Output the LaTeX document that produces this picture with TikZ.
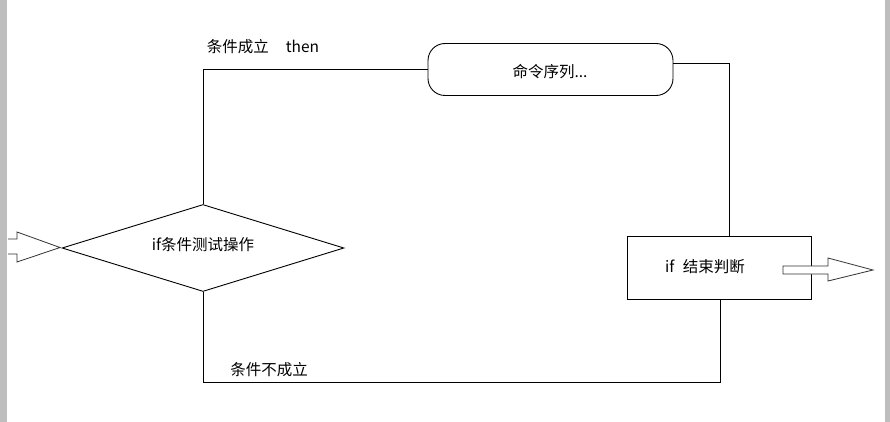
\documentclass[tikz,border=0pt]{standalone}
\usepackage{fontspec}
\setmainfont{Noto Sans CJK SC}
\usetikzlibrary{shapes.geometric}
\definecolor{edgegray}{RGB}{190,190,190}
\definecolor{arrowgray}{RGB}{50,50,50}
\tikzset{
  conn/.style={draw=black, line width=0.9pt},
  shapeline/.style={draw=black, line width=0.9pt},
  blockarrow/.style={draw=arrowgray, line width=0.8pt, fill=white},
  lbl/.style={font=\fontsize{15.5}{17}\selectfont, inner sep=0pt}
}
\begin{document}
\begin{tikzpicture}[x=1pt, y=-1pt]
\useasboundingbox (0,0) rectangle (890,422);
\fill[white] (0,0) rectangle (890,422);
\fill[edgegray] (0,0) rectangle (7,422);
\fill[edgegray] (885,0) rectangle (890,422);

% diamond
\node[diamond, shapeline, shape aspect=3.24, minimum width=282pt, minimum height=87pt, inner sep=0pt] (dia) at (203,248) {};
\node[lbl] (diatext) at (203,245) {if条件测试操作};

% rounded command box
\node[shapeline, rounded corners=17pt, minimum width=245pt, minimum height=52pt, inner sep=0pt] (cmd) at (550.5,69.5) {};
\node[lbl] (cmdtext) at (550,72) {命令序列...};

% end box
\node[shapeline, rectangle, minimum width=184pt, minimum height=63pt, inner sep=0pt] (endbox) at (719,267.5) {};
\node[lbl] (endtext) at (705,267) {if\hspace{0.55em}结束判断};

% labels
\node[lbl] (thenlbl) at (263,47) {条件成立\hspace{1.1em}then};
\node[lbl] (elselbl) at (269,370) {条件不成立};

% connectors
\coordinate (c1) at (729,63);
\coordinate (c2) at (720,382);
\draw[conn] (dia.north) |- (cmd.west);
\draw[conn] (cmd.east |- c1) -- (c1) -- (c1 |- endbox.north);
\draw[conn] (dia.south) |- (c2) -- (c2 |- endbox.south);

% block arrows
\draw[blockarrow] (8,239) -- (17,239) -- (17,232) -- (60,247.5) -- (17,262) -- (17,254) -- (8,254);
\draw[blockarrow] (783,266) -- (828,266) -- (828,258) -- (873,270) -- (828,281) -- (828,274) -- (783,274) -- cycle;
\end{tikzpicture}
\end{document}
